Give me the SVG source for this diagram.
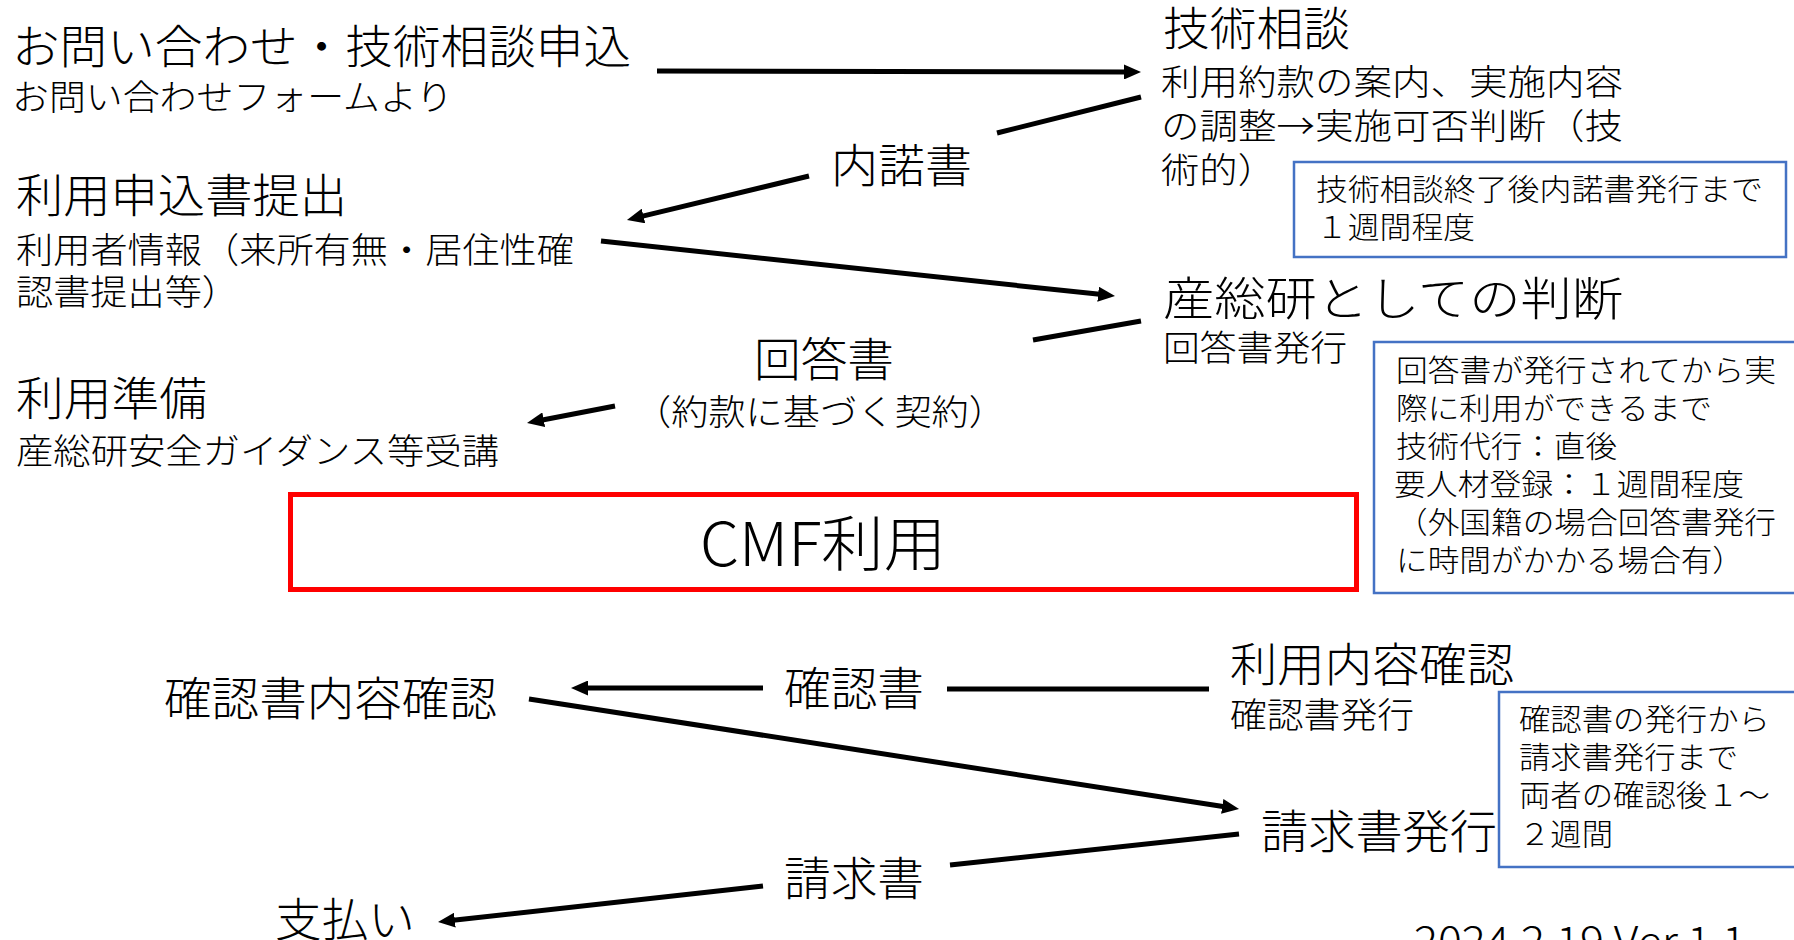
<svg xmlns="http://www.w3.org/2000/svg" width="1794" height="940" viewBox="0 0 1794 940">
<style>
text{font-family:"Noto Sans CJK JP","Noto Sans",sans-serif;font-weight:300;fill:#000}
.L{font-size:46px}
.M{font-size:35px}
.S{font-size:30px}
.cn{stroke:#000;stroke-width:5;fill:none}
.note{fill:#fff;stroke:#4472C4;stroke-width:2.5}
</style>
<defs>
<marker id="ah" markerUnits="userSpaceOnUse" markerWidth="17" markerHeight="15" viewBox="0 0 17 15" refX="4" refY="7.5" orient="auto">
<path d="M0,0 L17,7.5 L0,15 z" fill="#000"/>
</marker>
</defs>
<rect width="1794" height="940" fill="#fff"/>

<g id="connectors">
<line class="cn" x1="657" y1="71" x2="1128" y2="72" marker-end="url(#ah)"/>
<line class="cn" x1="1141" y1="97" x2="997" y2="133"/>
<line class="cn" x1="809" y1="176" x2="639.6" y2="216.9" marker-end="url(#ah)"/>
<line class="cn" x1="601" y1="241" x2="1102.1" y2="294.6" marker-end="url(#ah)"/>
<line class="cn" x1="1141" y1="321" x2="1033" y2="340"/>
<line class="cn" x1="615" y1="406" x2="539.8" y2="420.5" marker-end="url(#ah)"/>
<line class="cn" x1="947" y1="689" x2="1209" y2="689"/>
<line class="cn" x1="763" y1="688" x2="584" y2="688" marker-end="url(#ah)"/>
<line class="cn" x1="529" y1="699" x2="1226.2" y2="807" marker-end="url(#ah)"/>
<line class="cn" x1="1239" y1="834" x2="950" y2="865"/>
<line class="cn" x1="763" y1="886" x2="450.9" y2="920.6" marker-end="url(#ah)"/>
</g>

<g id="inquiry">
<text class="L" x="12" y="63" textLength="619" lengthAdjust="spacingAndGlyphs">お問い合わせ・技術相談申込</text>
<text class="M" x="12" y="110" textLength="441" lengthAdjust="spacingAndGlyphs">お問い合わせフォームより</text>
</g>

<g id="consult">
<text class="L" x="1163" y="45" textLength="187" lengthAdjust="spacingAndGlyphs">技術相談</text>
<text class="M" x="1161" y="95" textLength="462" lengthAdjust="spacingAndGlyphs">利用約款の案内、実施内容</text>
<text class="M" x="1161" y="139" textLength="462" lengthAdjust="spacingAndGlyphs">の調整→実施可否判断（技</text>
<text class="M" x="1161" y="183" textLength="115" lengthAdjust="spacingAndGlyphs">術的）</text>
</g>

<g id="note1">
<rect class="note" x="1294" y="162" width="492" height="95"/>
<text class="S" x="1316" y="200" textLength="447" lengthAdjust="spacingAndGlyphs">技術相談終了後内諾書発行まで</text>
<text class="S" x="1316" y="238" textLength="159" lengthAdjust="spacingAndGlyphs">１週間程度</text>
</g>

<g id="label-naidaku">
<text class="L" x="831" y="182" textLength="141" lengthAdjust="spacingAndGlyphs">内諾書</text>
</g>

<g id="application">
<text class="L" x="16" y="212" textLength="331" lengthAdjust="spacingAndGlyphs">利用申込書提出</text>
<text class="M" x="16" y="263" textLength="558" lengthAdjust="spacingAndGlyphs">利用者情報（来所有無・居住性確</text>
<text class="M" x="16" y="305" textLength="223" lengthAdjust="spacingAndGlyphs">認書提出等）</text>
</g>

<g id="judgement">
<text class="L" x="1163" y="315" textLength="460" lengthAdjust="spacingAndGlyphs">産総研としての判断</text>
<text class="M" x="1163" y="361" textLength="184" lengthAdjust="spacingAndGlyphs">回答書発行</text>
</g>

<g id="label-kaitou">
<text class="L" x="754" y="376" textLength="140" lengthAdjust="spacingAndGlyphs">回答書</text>
<text class="M" x="634" y="425" textLength="372" lengthAdjust="spacingAndGlyphs">（約款に基づく契約）</text>
</g>

<g id="note2">
<rect class="note" x="1374" y="342" width="440" height="251"/>
<text class="S" x="1396" y="381" textLength="380" lengthAdjust="spacingAndGlyphs">回答書が発行されてから実</text>
<text class="S" x="1396" y="419" textLength="316" lengthAdjust="spacingAndGlyphs">際に利用ができるまで</text>
<text class="S" x="1396" y="457" textLength="221" lengthAdjust="spacingAndGlyphs">技術代行：直後</text>
<text class="S" x="1394" y="495" textLength="350" lengthAdjust="spacingAndGlyphs">要人材登録：１週間程度</text>
<text class="S" x="1396" y="533" textLength="380" lengthAdjust="spacingAndGlyphs">（外国籍の場合回答書発行</text>
<text class="S" x="1396" y="571" textLength="348" lengthAdjust="spacingAndGlyphs">に時間がかかる場合有）</text>
</g>

<g id="preparation">
<text class="L" x="16" y="415" textLength="191" lengthAdjust="spacingAndGlyphs">利用準備</text>
<text class="M" x="16" y="464" textLength="483" lengthAdjust="spacingAndGlyphs">産総研安全ガイダンス等受講</text>
</g>

<g id="cmf-use">
<rect x="290.5" y="494.5" width="1066" height="95" fill="none" stroke="#FF0000" stroke-width="5"/>
<text x="823" y="566" font-size="60" text-anchor="middle" textLength="246" lengthAdjust="spacingAndGlyphs">CMF利用</text>
</g>

<g id="confirm-check">
<text class="L" x="164" y="715" textLength="333" lengthAdjust="spacingAndGlyphs">確認書内容確認</text>
</g>

<g id="label-kakunin">
<text class="L" x="784" y="705" textLength="140" lengthAdjust="spacingAndGlyphs">確認書</text>
</g>

<g id="usage-confirm">
<text class="L" x="1230" y="681" textLength="284" lengthAdjust="spacingAndGlyphs">利用内容確認</text>
<text class="M" x="1230" y="728" textLength="184" lengthAdjust="spacingAndGlyphs">確認書発行</text>
</g>

<g id="note3">
<rect class="note" x="1499" y="692" width="310" height="175"/>
<text class="S" x="1519" y="730" textLength="251" lengthAdjust="spacingAndGlyphs">確認書の発行から</text>
<text class="S" x="1519" y="768" textLength="219" lengthAdjust="spacingAndGlyphs">請求書発行まで</text>
<text class="S" x="1519" y="806" textLength="251" lengthAdjust="spacingAndGlyphs">両者の確認後１～</text>
<text class="S" x="1519" y="845" textLength="94" lengthAdjust="spacingAndGlyphs">２週間</text>
</g>

<g id="invoice">
<text class="L" x="1261" y="848" textLength="236" lengthAdjust="spacingAndGlyphs">請求書発行</text>
</g>

<g id="label-seikyu">
<text class="L" x="784" y="895" textLength="140" lengthAdjust="spacingAndGlyphs">請求書</text>
</g>

<g id="payment">
<text class="L" x="275" y="936" textLength="140" lengthAdjust="spacingAndGlyphs">支払い</text>
</g>

<g id="version">
<text x="1414" y="957" font-size="42" textLength="332" lengthAdjust="spacingAndGlyphs">2024.2.19 Ver.1.1</text>
</g>
</svg>
